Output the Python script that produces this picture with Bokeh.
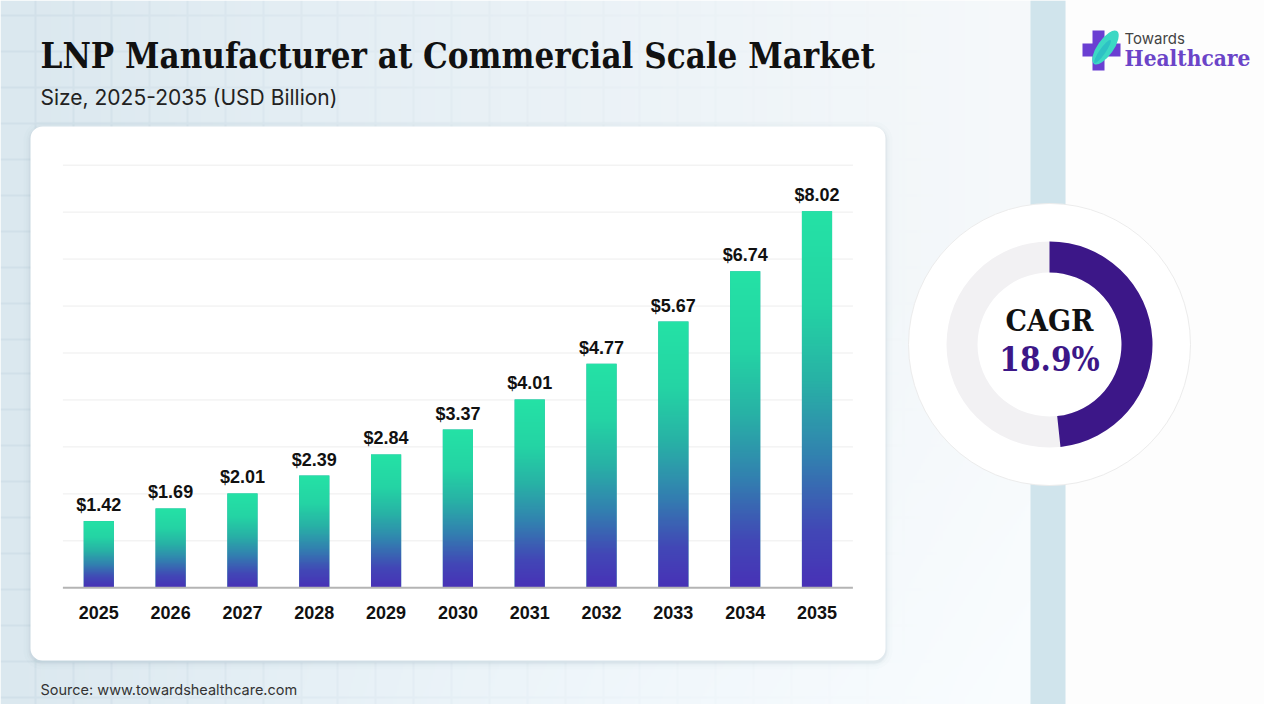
import numpy as np
from bokeh.plotting import figure
from bokeh.models import Range1d
from bokeh.embed import file_html
from bokeh.resources import INLINE
from bokeh.core.properties import value

# ---------------- data ----------------
years = [2025, 2026, 2027, 2028, 2029, 2030, 2031, 2032, 2033, 2034, 2035]
year_labels = ["2025", "2026", "2027", "2028", "2029", "2030", "2031", "2032", "2033", "2034", "2035"]
market_size = [1.42, 1.69, 2.01, 2.39, 2.84, 3.37, 4.01, 4.77, 5.67, 6.74, 8.02]
value_labels = ["$1.42", "$1.69", "$2.01", "$2.39", "$2.84", "$3.37", "$4.01", "$4.77", "$5.67", "$6.74", "$8.02"]
grid_values = [1, 2, 3, 4, 5, 6, 7, 8, 9]
title_text = "LNP Manufacturer at Commercial Scale Market"
subtitle_text = "Size, 2025-2035 (USD Billion)"
source_text = "Source: www.towardshealthcare.com"
cagr_label = "CAGR"
cagr_text = "18.9%"
cagr_arc_fraction = 0.483
brand_top = "Towards"
brand_bottom = "Healthcare"

SERIF_C = value("DejaVu Serif Condensed, DejaVu Serif")

# ---------------- figure ----------------
W, H = 1264, 704
p = figure(width=W, height=H,
           x_range=Range1d(2023.6313, 2041.2309),
           y_range=Range1d(-2.485, 12.506),
           x_axis_location=None, y_axis_location=None,
           output_backend="svg", toolbar_location=None,
           min_border=0, outline_line_color=None,
           background_fill_color="white", border_fill_color="white")
p.grid.visible = False
# pixel-space ranges for the decorations (y measured upward: py = H - screen_y)
p.extra_x_ranges = {"px": Range1d(0, W)}
p.extra_y_ranges = {"py": Range1d(0, H)}
PX = dict(x_range_name="px", y_range_name="py")


def Y(y):
    return H - y


# ---------------- background image ----------------
bh, bw = 352, 632
xs = np.linspace(0, W, bw)
ys = np.linspace(0, H, bh)
stops_x = [0, 300, 700, 1030, 1280]
cols = np.array([[219, 232, 239], [228, 238, 244], [238, 244, 248], [246, 249, 251], [250, 251, 252]], float)
base = np.stack([np.interp(xs, stops_x, cols[:, k]) for k in range(3)], axis=-1)
img = np.repeat(base[None, :, :], bh, axis=0)
img += (np.clip((ys[:, None] - 300) / 400, 0, 1) * np.clip(xs[None, :] / 600, 0, 1) * 4)[:, :, None]
dx = np.abs(((xs - 35 + 18.9) % 37.8) - 18.9)
dy = np.abs(((ys - 14 + 18) % 36) - 18)
mask = ((dx[None, :] < 1.0) | (dy[:, None] < 1.0)).astype(float)
fade = np.clip(1 - xs / 950, 0, 1)[None, :]
img -= (mask * fade)[:, :, None] * np.array([10, 8, 6])[None, None, :]
img = np.clip(img, 0, 255).astype(np.uint8)
rgba = np.zeros((bh, bw), dtype=np.uint32)
view = rgba.view(dtype=np.uint8).reshape((bh, bw, 4))
view[:, :, 0] = img[:, :, 0]
view[:, :, 1] = img[:, :, 1]
view[:, :, 2] = img[:, :, 2]
view[:, :, 3] = 255
p.image_rgba(image=[rgba[::-1]], x=0, y=0, dw=W, dh=H, **PX)

# right panel + strip
p.quad(left=1065, right=W, top=Y(0), bottom=Y(H), fill_color="#fdfdfd", line_color=None, **PX)
p.quad(left=1030, right=1065, top=Y(0), bottom=Y(H), fill_color="#d0e4ec", line_color=None, **PX)

# ---------------- card ----------------
for grow, alpha in [(7, 0.02), (4, 0.03), (2, 0.05), (1, 0.06)]:
    p.quad(left=30 - grow, right=885 + grow, top=Y(126 - grow + 2), bottom=Y(660 + grow + 2),
           fill_color="#7f93a3", fill_alpha=alpha, line_color=None, border_radius=12 + grow, **PX)
p.quad(left=30, right=885, top=Y(126), bottom=Y(660), fill_color="white", line_color=None,
       border_radius=12, **PX)

# ---------------- bar chart (data space) ----------------
x_lo = years[0] - 0.5
x_hi = years[-1] + 0.5
p.segment(x0=[x_lo] * len(grid_values), x1=[x_hi] * len(grid_values), y0=grid_values, y1=grid_values,
          line_color="#ededed", line_width=1)

bar_w = 0.42
p.vbar(x=years, top=market_size, bottom=0, width=bar_w, fill_color="#2fa9aa", line_color=None)

# vertical gradient (row 0 = bottom)
t = np.linspace(0, 1, 128)
gs = [0.0, 0.15, 0.35, 0.55, 0.75, 1.0]
gc = np.array([[72, 50, 182], [66, 72, 182], [50, 130, 176], [40, 178, 166], [36, 212, 164], [37, 226, 166]], float)
grad = np.stack([np.interp(t, gs, gc[:, k]) for k in range(3)], axis=-1).astype(np.uint8)
gimg = np.zeros((128, 4), dtype=np.uint32)
gv = gimg.view(dtype=np.uint8).reshape((128, 4, 4))
gv[:, :, 0] = grad[:, None, 0]
gv[:, :, 1] = grad[:, None, 1]
gv[:, :, 2] = grad[:, None, 2]
gv[:, :, 3] = 255
p.image_rgba(image=[gimg] * len(years), x=[yr - bar_w / 2 for yr in years], y=[0] * len(years),
             dw=[bar_w] * len(years), dh=market_size)

p.segment(x0=[x_lo], x1=[x_hi], y0=[0], y1=[0], line_color="#b4b4b4", line_width=2)

p.text(x=years, y=market_size, text=value_labels, text_align="center", text_baseline="alphabetic",
       y_offset=-16, text_font=value("Liberation Sans"), text_font_style="bold",
       text_font_size="18px", text_color="#111111")
p.text(x=years, y=[0] * len(years), text=year_labels, text_align="center", text_baseline="alphabetic",
       y_offset=25, text_font=value("Liberation Sans"), text_font_style="bold",
       text_font_size="18px", text_color="#111111")

# ---------------- titles ----------------
p.text(x=[40], y=[Y(55)], text=[title_text], text_font=SERIF_C, text_font_style="bold",
       text_font_size="34.6px", text_color="#111111", text_baseline="alphabetic", **PX)
p.text(x=[40], y=[Y(97)], text=[subtitle_text], text_font=value("Inter"),
       text_font_size="21px", text_color="#222222", text_baseline="alphabetic", **PX)
p.text(x=[40], y=[Y(689)], text=[source_text], text_font=value("Inter"),
       text_font_size="14.5px", text_color="#333333", text_baseline="alphabetic", **PX)

# ---------------- CAGR donut ----------------
cx, cy = 1049, Y(344)
p.scatter(x=[cx], y=[cy], size=282, marker="circle", fill_color="white", line_color="#ececec",
          line_width=1, **PX)
p.annular_wedge(x=[cx], y=[cy], inner_radius=72, outer_radius=103, start_angle=0, end_angle=2 * np.pi,
                fill_color="#f2f1f3", line_color=None, **PX)
p.annular_wedge(x=[cx], y=[cy], inner_radius=72, outer_radius=103,
                start_angle=np.pi / 2 - cagr_arc_fraction * 2 * np.pi, end_angle=np.pi / 2,
                direction="anticlock", fill_color="#3c1788", line_color=None, **PX)
p.text(x=[cx], y=[Y(320)], text=[cagr_label], text_align="center", text_baseline="alphabetic",
       text_font=SERIF_C, text_font_style="bold", text_font_size="30px",
       text_color="#111111", **PX)
p.text(x=[cx], y=[Y(358.5)], text=[cagr_text], text_align="center", text_baseline="alphabetic",
       text_font=SERIF_C, text_font_style="bold", text_font_size="33px", text_color="#3c1788", **PX)

# ---------------- logo ----------------
p.quad(left=1092, right=1104, top=Y(30), bottom=Y(70), fill_color="#6a3fd2", line_color=None, **PX)
p.quad(left=1082, right=1120, top=Y(43), bottom=Y(56), fill_color="#6a3fd2", line_color=None, **PX)
p.ellipse(x=[1105], y=[Y(47)], width=40, height=16, angle=np.deg2rad(55), fill_color="#3cd8c4",
          line_color=None, **PX)
p.ellipse(x=[1102], y=[Y(51)], width=28, height=6, angle=np.deg2rad(55), fill_color="#22aec4",
          fill_alpha=0.55, line_color=None, **PX)
p.text(x=[1124], y=[Y(38)], text=[brand_top], text_font=value("Inter"), text_font_size="15px",
       text_color="#444444", text_baseline="alphabetic", **PX)
p.text(x=[1124], y=[Y(57)], text=[brand_bottom], text_font=SERIF_C, text_font_style="bold",
       text_font_size="22.5px", text_color="#6b44c8", text_baseline="alphabetic", **PX)

open("out.html", "w").write(file_html(p, INLINE))
